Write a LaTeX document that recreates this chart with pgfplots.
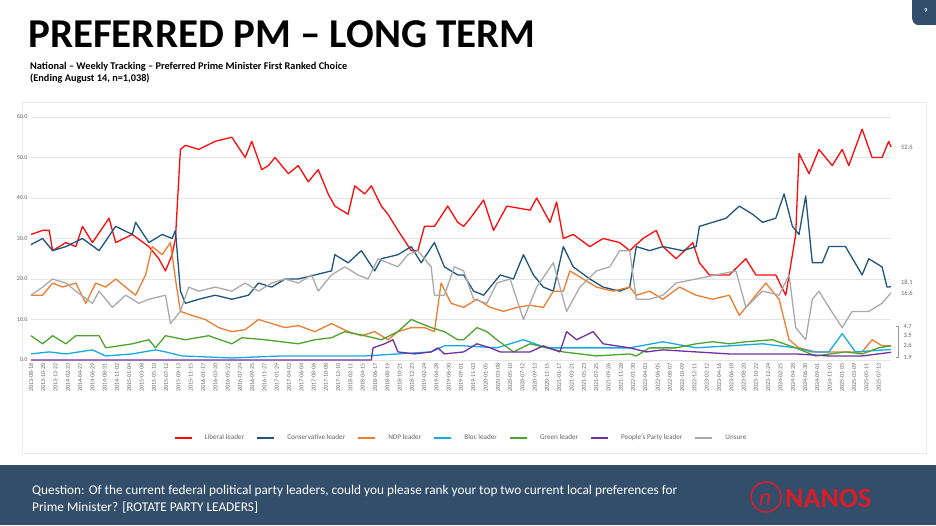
\documentclass[border=0pt]{standalone}
\usepackage{pgfplots}
\pgfplotsset{compat=1.18}
\usepackage{fontspec}
\setmainfont{Carlito}
\definecolor{lib}{RGB}{255,10,10}
\definecolor{con}{RGB}{30,85,125}
\definecolor{ndp}{RGB}{237,125,49}
\definecolor{bloc}{RGB}{20,170,230}
\definecolor{grn}{RGB}{75,165,45}
\definecolor{ppc}{RGB}{112,48,160}
\definecolor{uns}{RGB}{170,170,170}
\definecolor{bar}{RGB}{51,78,107}
\definecolor{nanos}{RGB}{215,30,40}
\begin{document}
\begin{tikzpicture}[x=1pt,y=1pt]
\useasboundingbox (0,0) rectangle (936,525);
\fill[white] (0,0) rectangle (936,525);
\fill[bar] (0,0) rectangle (936,60);
\fill[bar] (912,525) -- (936,525) -- (936,500) -- (918,500) to[out=180,in=270] (912,508) -- cycle;
\node[white,font=\fontsize{6}{7}\selectfont\bfseries] at (926,514) {9};
\draw[black!8,line width=1pt,fill=white] (22,72) rectangle (926,422);
\node[anchor=base west,font=\fontsize{41}{44}\selectfont\bfseries,inner sep=0] at (28,477) {PREFERRED PM – LONG TERM};
\node[anchor=base west,font=\fontsize{10.3}{12}\selectfont\bfseries,inner sep=0] at (30,455) {National – Weekly Tracking – Preferred Prime Minister First Ranked Choice};
\node[anchor=base west,font=\fontsize{10.3}{12}\selectfont\bfseries,inner sep=0] at (30,443) {(Ending August 14, n=1,038)};
\node[anchor=base west,white,font=\fontsize{13.3}{15}\selectfont,inner sep=0] at (32,31) {Question: Of the current federal political party leaders, could you please rank your top two current local preferences for};
\node[anchor=base west,white,font=\fontsize{13.3}{15}\selectfont,inner sep=0] at (32,14) {Prime Minister? [ROTATE PARTY LEADERS]};
\draw[nanos,line width=1.5pt] (766,28) circle (15);
\node[nanos,font=\fontsize{24}{26}\selectfont\itshape] at (765,25) {n};
\node[nanos,anchor=west,font=\fontsize{28}{30}\selectfont\bfseries,inner sep=0] at (785,27) {NANOS};
\begin{axis}[at={(31pt,165pt)},anchor=south west,scale only axis,width=860pt,height=243pt,clip=false,
 xmin=95,xmax=2685,ymin=0,ymax=60,
 ytick={0,10,...,60},yticklabel style={/pgf/number format/.cd,fixed,fixed zerofill,precision=1},
 /pgf/number format/assume math mode=true,
 ticklabel style={font=\fontsize{6}{7}\selectfont,text=black!60},
 ymajorgrids,grid style={black!10},axis line style={draw=none},
 y axis line style={draw=none},x axis line style={draw=black!15},
 major tick style={draw=none},
 xtick={95,132,...,2648},
 xticklabels={2013-08-18,2013-10-20,2013-12-22,2014-02-23,2014-04-27,2014-06-29,2014-08-31,2014-11-02,2015-01-04,2015-03-08,2015-05-10,2015-07-12,2015-09-13,2015-11-15,2016-01-17,2016-03-20,2016-05-22,2016-07-24,2016-09-25,2016-11-27,2017-01-29,2017-04-02,2017-06-04,2017-08-06,2017-10-08,2017-12-10,2018-02-11,2018-04-15,2018-06-17,2018-08-19,2018-10-21,2018-12-23,2019-02-24,2019-04-28,2019-06-30,2019-09-01,2019-11-03,2020-01-05,2020-03-08,2020-05-10,2020-07-12,2020-09-13,2020-11-15,2021-01-17,2021-03-21,2021-05-23,2021-07-25,2021-09-26,2021-11-28,2022-01-30,2022-04-03,2022-06-05,2022-08-07,2022-10-09,2022-12-11,2023-02-12,2023-04-16,2023-06-18,2023-08-20,2023-10-22,2023-12-24,2024-02-25,2024-04-28,2024-06-30,2024-09-01,2024-11-03,2025-01-05,2025-03-09,2025-05-11,2025-07-13},
 xticklabel style={rotate=90,anchor=east},
 legend style={at={(0.5,-0.29)},anchor=north,draw=none,font=\fontsize{7.2}{8}\selectfont,text=black!60,column sep=10pt},
 legend columns=7,legend image post style={line width=2pt},
 every axis plot/.append style={line width=1.3pt,line join=round}]
\addplot[lib] coordinates {(95,31)(130,32)(150,32)(160,27)(200,29)(230,28)(250,33)(280,29)(330,35)(350,29)(400,31)(450,28)(480,25)(500,22)(520,26)(530,30)(545,52)(560,53)(600,52)(650,54)(700,55)(740,50)(760,54)(790,47)(810,48)(830,50)(870,46)(900,48)(930,44)(960,47)(990,41)(1010,38)(1050,36)(1070,43)(1100,41)(1120,43)(1150,38)(1170,36)(1200,32)(1240,27)(1260,27)(1280,33)(1310,33)(1350,38)(1380,34)(1398,33)(1418,35)(1458,39.5)(1488,32)(1528,38)(1598,37)(1618,40)(1658,34)(1678,39)(1698,30)(1728,31)(1778,28)(1818,30)(1868,29)(1898,27)(1938,30)(1978,32)(1998,28)(2038,25)(2088,29)(2108,24)(2138,21)(2198,21)(2248,25)(2278,21)(2338,21)(2368,16)(2398,31)(2408,51)(2438,46)(2468,52)(2508,48)(2538,52)(2558,48)(2598,57)(2628,50)(2658,50)(2678,54)(2685,52.6)};
\addlegendentry{Liberal leader}
\addplot[con] coordinates {(95,28.5)(130,30)(160,27)(200,28)(250,30)(300,27)(350,33)(400,31)(410,34)(450,29)(490,31)(520,30)(530,32)(545,17)(560,14)(600,15)(650,16)(700,15)(750,16)(780,19)(820,18)(860,20)(900,20)(950,21)(1000,22)(1010,26)(1050,24)(1090,27)(1130,22)(1150,25)(1200,26)(1240,28)(1270,24)(1310,29)(1340,23)(1380,21)(1398,21)(1428,17)(1458,16)(1508,21)(1548,20)(1578,26)(1608,21)(1638,18)(1668,17)(1698,28)(1728,23)(1778,20)(1818,18)(1868,17)(1898,18)(1918,28)(1958,27)(1998,28)(2058,27)(2098,28)(2108,33)(2148,34)(2188,35)(2228,38)(2268,36)(2298,34)(2338,35)(2363,41)(2388,33)(2408,31)(2428,40.5)(2448,24)(2478,24)(2498,28)(2548,28)(2598,21)(2618,25)(2658,23)(2673,18)(2685,18.1)};
\addlegendentry{Conservative leader}
\addplot[ndp] coordinates {(95,16)(130,16)(160,19)(190,18)(230,19)(260,14)(290,19)(320,18)(350,20)(380,18)(410,16)(440,21)(460,28)(490,26)(515,29)(530,20)(545,12)(580,11)(620,10)(660,8)(700,7)(740,7.5)(780,10)(820,9)(860,8)(900,8.5)(950,7)(1000,9)(1050,7)(1090,6)(1130,7)(1170,5)(1200,7)(1240,8)(1280,8)(1310,7)(1330,19)(1360,14)(1398,13)(1438,15)(1478,13)(1518,12)(1558,13)(1598,13.5)(1638,13)(1668,17)(1698,17)(1718,22)(1758,20)(1798,18)(1848,17)(1898,18)(1918,16)(1958,17)(1998,15)(2048,18)(2098,16)(2148,15)(2198,16)(2228,11)(2268,15)(2308,19)(2348,15)(2378,5)(2408,3)(2458,2)(2498,2)(2548,2)(2598,2)(2628,5)(2658,3.5)(2685,3.5)};
\addlegendentry{NDP leader}
\addplot[bloc] coordinates {(95,1.5)(150,2)(200,1.5)(280,2.5)(320,1)(400,1.5)(470,2.5)(500,2)(550,1)(700,0.5)(850,1)(1000,1)(1100,1)(1200,1.5)(1300,2)(1340,3.5)(1398,3.5)(1498,3)(1578,5)(1648,3)(1728,3)(1798,3)(1898,3)(1998,4.5)(2098,3)(2198,3.5)(2298,4)(2398,3)(2448,2)(2498,2)(2538,6.5)(2578,2)(2685,2.6)};
\addlegendentry{Bloc leader}
\addplot[grn] coordinates {(95,6)(130,4)(160,6)(200,4)(230,6)(300,6)(320,3)(400,4)(450,5)(470,3)(500,6)(560,5)(630,6)(700,4)(730,5.5)(800,5)(900,4)(950,5)(1000,5.5)(1040,7)(1100,6)(1150,5)(1200,7)(1240,10)(1300,8)(1340,7)(1380,5)(1398,5)(1438,8)(1468,7)(1498,5)(1548,2)(1598,4)(1648,3)(1698,2)(1798,1)(1898,1.5)(1918,1)(1958,3)(2038,3)(2098,4)(2148,4.5)(2198,4)(2248,4.5)(2328,5)(2398,3)(2458,1)(2548,2)(2598,1.5)(2648,3)(2685,3.5)};
\addlegendentry{Green leader}
\addplot[ppc] coordinates {(95,0)(1120,0)(1125,3)(1160,4)(1185,5)(1200,2)(1250,1.5)(1300,2)(1320,3)(1340,1.5)(1398,2)(1438,4)(1478,3)(1508,2)(1598,2)(1638,3.5)(1688,2)(1708,7)(1738,5)(1788,7)(1818,4)(1898,3)(1948,2)(1998,2.5)(2098,2)(2198,1.5)(2298,1.5)(2398,1.5)(2498,1)(2598,1)(2685,1.9)};
\addlegendentry{People's Party leader}
\addplot[uns] coordinates {(95,16)(130,18)(160,20)(200,19)(230,17)(280,14)(300,17)(340,13)(380,16)(420,14)(450,15)(500,16)(515,9)(545,12)(570,18)(600,17)(650,18)(700,17)(740,19)(780,17)(820,19)(860,20)(900,19)(940,21)(960,17)(1000,21)(1040,23)(1080,21)(1110,20)(1140,25)(1200,23)(1230,26)(1260,27)(1300,23)(1310,16)(1340,16)(1370,23)(1398,22)(1428,15)(1468,14)(1498,19)(1538,20)(1578,10)(1618,18)(1668,24)(1708,12)(1748,18)(1798,22)(1838,23)(1868,27)(1898,27)(1918,15)(1958,15)(1998,16)(2038,19)(2098,20)(2158,21)(2218,22)(2248,13)(2298,17)(2348,16)(2378,21)(2398,8)(2428,5)(2448,15)(2468,17)(2498,13)(2538,8)(2568,12)(2618,12)(2658,14)(2685,16.6)};
\addlegendentry{Unsure}
\begin{scope}[font=\fontsize{6.5}{7}\selectfont,text=black!60]
\node[anchor=west] at (axis cs:2705,52.6) {52.6};
\node[anchor=west] at (axis cs:2705,19.3) {18.1};
\node[anchor=west] at (axis cs:2705,16.4) {16.6};
\node[anchor=west] at (axis cs:2712,8.4) {4.7};
\node[anchor=west] at (axis cs:2712,6.1) {3.5};
\node[anchor=west] at (axis cs:2712,3.5) {2.6};
\node[anchor=west] at (axis cs:2712,0.6) {1.9};
\end{scope}
\draw[black!40,line width=0.4pt] (axis cs:2700,8.4) -- (axis cs:2708,8.4) -- (axis cs:2708,0.6) -- (axis cs:2700,0.6);
\end{axis}
\end{tikzpicture}
\end{document}
